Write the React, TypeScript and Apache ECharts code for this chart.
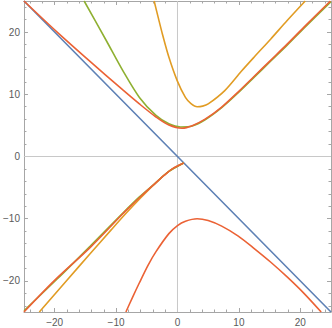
import React, { useEffect, useRef } from 'react';
import * as echarts from 'echarts';

const majorTicks = [-20, -10, 0, 10, 20];
const minorTicks = [-24, -22, -18, -16, -14, -12, -8, -6, -4, -2, 2, 4, 6, 8, 12, 14, 16, 18, 22, 24];

const blueLine: [number, number][] = [[-25, 25], [0, 0], [25, -25]];

const orangeUpper: [number, number][] = [
  [-3.8, 25], [-3.1, 22.2], [-2.46, 19.7], [-1.38, 15.9], [-0.05, 12.2], [1.29, 9.5], [2.2, 8.5],
  [3.2, 8.0], [4.1, 8.1], [5.0, 8.45], [7.7, 10.6], [10.4, 13.7], [12.5, 16.0], [15.2, 18.9],
  [17.9, 21.9], [20.8, 25],
];
const orangeLower: [number, number][] = [
  [-22.5, -25], [-18.0, -19.9], [-14.2, -15.6], [-10.8, -11.8], [-8.3, -9.05], [-5.9, -6.55],
  [-3.5, -4.2], [-1.4, -2.4], [1.0, -1.05],
];

const greenUpper: [number, number][] = [
  [-15.2, 25], [-11.6, 18.65], [-8.9, 13.8], [-6.2, 9.5], [-3.5, 6.6], [-1.4, 5.25], [0.5, 4.75],
  [2.4, 4.9], [4.5, 5.9], [7.2, 7.85], [9.9, 10.25], [12.5, 12.75], [15.2, 15.35], [17.9, 17.95],
  [20.6, 20.65], [25, 24.9],
];
const greenLower: [number, number][] = [
  [-25, -24.8], [-19.6, -19.7], [-14.2, -14.4], [-8.9, -9.1], [-6.2, -6.5], [-3.5, -4.2],
  [-1.4, -2.4], [1.0, -1.05],
];

const redUpper: [number, number][] = [
  [-25, 25], [-19.6, 20.0], [-14.2, 15.25], [-8.9, 10.7], [-6.2, 8.45], [-3.5, 6.35], [-1.4, 5.05],
  [0.75, 4.55], [2.4, 4.95], [4.5, 6.0], [7.2, 7.95], [9.9, 10.4], [12.5, 12.9], [15.2, 15.5],
  [17.9, 18.1], [20.6, 20.8], [24.9, 25],
];
const redLowerLeft: [number, number][] = [
  [-25, -25], [-20.1, -20.0], [-14.2, -14.6], [-8.9, -9.2], [-7.6, -7.95], [-5.9, -6.35],
  [-3.5, -4.2], [-2.2, -3.05], [-0.8, -1.95], [1.0, -1.05],
];
const redLower: [number, number][] = [
  [-8.4, -25], [-7.3, -22.6], [-6.2, -20.3], [-4.8, -17.5], [-3.5, -15.3], [-1.4, -12.4],
  [0, -11.1], [1.3, -10.4], [3.2, -10.0], [5.0, -10.3], [7.2, -11.2], [9.9, -12.8],
  [12.5, -14.8], [15.2, -17.0], [17.9, -19.4], [20.6, -22.0], [23.4, -25],
];

const originV: [number, number][] = [[0, -25], [0, 25]];
const originH: [number, number][] = [[-25, 0], [25, 0]];

const BLUE = '#5E81B5';
const ORANGE = '#E19C24';
const GREEN = '#8FB032';
const RED = '#EB6235';
const FRAME = '#a6a6a6';
const LABEL = '#5a5a5a';

const fmt = (v: number) => String(v).replace('-', '\u2212');

function axis(kind: 'x' | 'y', position: string, ticks: number[], len: number, withLine: boolean, withLabel: boolean) {
  return {
    type: 'value',
    min: -25,
    max: 25,
    position,
    axisLine: { show: withLine, onZero: false, lineStyle: { color: FRAME, width: 1 } },
    axisTick: { show: true, inside: true, length: len, customValues: ticks, lineStyle: { color: FRAME, width: 1 } },
    axisLabel: withLabel
      ? {
          show: true,
          customValues: ticks,
          formatter: fmt,
          color: LABEL,
          fontSize: 10,
          fontFamily: 'Liberation Sans, Arial, sans-serif',
          margin: kind === 'x' ? 5 : 4,
        }
      : { show: false },
    splitLine: { show: false },
  };
}

function curve(data: [number, number][], color: string) {
  return {
    type: 'line',
    data,
    showSymbol: false,
    symbol: 'none',
    smooth: 0.3,
    clip: true,
    lineStyle: { color, width: 1.6 },
    itemStyle: { color },
    z: 3,
  };
}

export default function App() {
  const ref = useRef<HTMLDivElement>(null);
  useEffect(() => {
    if (!ref.current) return;
    const chart = echarts.init(ref.current, undefined, { renderer: 'svg' });
    chart.setOption({
      animation: false,
      backgroundColor: '#ffffff',
      grid: { left: 20, right: 1, top: 1, bottom: 16, containLabel: false },
      xAxis: [
        axis('x', 'bottom', majorTicks, 4, true, true),
        axis('x', 'bottom', minorTicks, 2.5, false, false),
        axis('x', 'top', majorTicks, 4, true, false),
        axis('x', 'top', minorTicks, 2.5, false, false),
      ],
      yAxis: [
        axis('y', 'left', majorTicks, 4, true, true),
        axis('y', 'left', minorTicks, 2.5, false, false),
        axis('y', 'right', majorTicks, 4, true, false),
        axis('y', 'right', minorTicks, 2.5, false, false),
      ],
      series: [
        { type: 'line', data: originV, symbol: 'none', lineStyle: { color: '#c8c8c8', width: 1 }, z: 1, silent: true },
        { type: 'line', data: originH, symbol: 'none', lineStyle: { color: '#c8c8c8', width: 1 }, z: 1, silent: true },
        { ...curve(blueLine, BLUE), smooth: false },
        curve(orangeUpper, ORANGE),
        curve(orangeLower, ORANGE),
        curve(greenUpper, GREEN),
        curve(greenLower, GREEN),
        curve(redUpper, RED),
        curve(redLowerLeft, RED),
        curve(redLower, RED),
      ],
    });
    return () => chart.dispose();
  }, []);
  return <div ref={ref} style={{ position: 'fixed', left: 0, top: 0, width: 332, height: 328 }} />;
}
